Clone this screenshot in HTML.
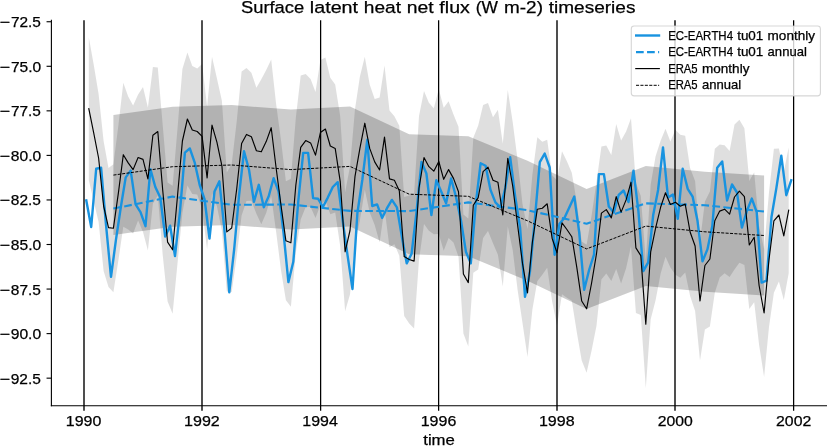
<!DOCTYPE html>
<html><head><meta charset="utf-8"><title>Surface latent heat net flux (W m-2) timeseries</title>
<style>
html,body{margin:0;padding:0;background:#fff;}
body{width:827px;height:446px;overflow:hidden;font-family:"Liberation Sans",sans-serif;}
svg{display:block;will-change:transform;}
text{font-family:"Liberation Sans",sans-serif;fill:#000;font-kerning:none;stroke:#000;stroke-width:0.25px;}
</style></head><body>
<svg width="827" height="446" viewBox="0 0 827 446">
<rect width="827" height="446" fill="#fff"/>
<g stroke="#000" stroke-width="1.39" fill="none">
<line x1="84.00" y1="20.3" x2="84.00" y2="410.7" stroke-width="1.39"/>
<line x1="202.00" y1="20.3" x2="202.00" y2="410.7" stroke-width="1.39"/>
<line x1="320.62" y1="20.3" x2="320.62" y2="410.7" stroke-width="1.25"/>
<line x1="438.62" y1="20.3" x2="438.62" y2="410.7" stroke-width="1.25"/>
<line x1="557.00" y1="20.3" x2="557.00" y2="410.7" stroke-width="1.39"/>
<line x1="675.00" y1="20.3" x2="675.00" y2="410.7" stroke-width="1.39"/>
<line x1="793.62" y1="20.3" x2="793.62" y2="410.7" stroke-width="1.25"/>
</g>
<polygon fill="#000" fill-opacity="0.125" points="88.8,37.2 93.7,64.6 98.6,94.0 103.6,141.0 108.5,168.1 113.4,164.2 118.4,125.3 123.3,82.7 128.2,96.4 133.1,105.6 138.1,94.5 143.0,86.9 147.9,107.4 152.9,66.9 157.8,67.5 162.7,125.0 167.6,182.6 172.6,185.8 177.5,128.5 182.4,69.0 187.4,52.5 192.3,66.0 197.2,68.5 202.1,63.9 207.1,106.5 212.0,56.8 216.9,78.2 221.9,100.8 226.8,172.4 231.7,164.0 236.7,121.5 241.6,71.5 246.5,67.9 251.4,72.8 256.4,87.7 261.3,79.3 266.2,70.1 271.2,59.4 276.1,103.7 281.0,140.3 285.9,181.3 290.9,178.8 295.8,118.0 300.7,75.4 305.7,74.1 310.6,78.9 315.5,92.1 320.4,60.0 325.4,57.5 330.3,77.7 335.2,84.4 340.2,116.3 345.1,192.3 350.0,166.5 355.0,108.9 359.9,76.4 364.8,56.7 369.7,84.4 374.7,98.9 379.6,97.5 384.5,65.6 389.5,110.6 394.4,116.3 399.3,125.8 404.2,197.1 409.2,195.5 414.1,193.6 419.0,116.0 424.0,91.0 428.9,102.7 433.8,108.2 438.8,89.0 443.7,107.8 448.6,101.3 453.5,114.4 458.5,126.8 463.4,214.5 468.3,218.6 473.3,137.8 478.2,125.6 483.1,105.1 488.0,103.1 493.0,117.2 497.9,109.7 502.8,143.5 507.8,90.0 512.7,122.0 517.6,160.0 522.5,203.9 527.5,228.9 532.4,174.5 537.3,137.2 542.3,141.7 547.2,139.8 552.1,175.2 557.0,180.2 562.0,151.3 566.9,161.2 571.8,172.7 576.8,202.3 581.7,241.5 586.6,244.8 591.6,215.5 596.5,181.7 601.4,146.6 606.3,145.6 611.3,154.9 616.2,124.1 621.1,140.6 626.1,131.6 631.0,118.2 635.9,182.9 640.8,196.1 645.8,260.2 650.7,184.3 655.6,156.2 660.6,140.8 665.5,128.8 670.4,141.5 675.4,129.7 680.3,134.7 685.2,135.8 690.1,168.0 695.1,181.0 700.0,241.5 704.9,201.5 709.9,191.5 714.8,148.8 719.7,144.6 724.6,145.2 729.6,151.1 734.5,124.5 739.4,119.7 744.4,128.3 749.3,181.0 754.2,172.3 759.1,226.0 764.1,249.0 769.0,192.0 773.9,148.8 778.9,148.5 783.8,171.9 788.7,147.2 788.7,273.2 783.8,299.9 778.9,281.5 773.9,292.8 769.0,327.0 764.1,377.0 759.1,345.0 754.2,302.3 749.3,309.0 744.4,264.9 739.4,262.7 734.5,269.5 729.6,277.1 724.6,273.2 719.7,277.6 714.8,292.8 709.9,326.5 704.9,329.5 700.0,360.5 695.1,311.0 690.1,296.0 685.2,272.4 680.3,277.7 675.4,274.7 670.4,267.5 665.5,256.8 660.6,273.8 655.6,300.2 650.7,319.3 645.8,388.2 640.8,315.1 635.9,312.9 631.0,246.2 626.1,268.2 621.1,283.6 616.2,269.1 611.3,280.9 606.3,273.6 601.4,279.6 596.5,325.7 591.6,350.5 586.6,372.8 581.7,360.5 576.8,332.3 571.8,300.7 566.9,297.8 562.0,294.3 557.0,325.2 552.1,301.2 547.2,267.8 542.3,274.7 537.3,281.2 532.4,309.5 527.5,356.9 522.5,322.9 517.6,290.0 512.7,250.0 507.8,226.6 502.8,286.5 497.9,254.7 493.0,243.2 488.0,231.1 483.1,238.1 478.2,269.6 473.3,272.8 468.3,346.6 463.4,333.5 458.5,256.8 453.5,242.4 448.6,237.9 443.7,250.8 438.8,234.0 433.8,234.2 428.9,230.7 424.0,224.0 419.0,260.0 414.1,328.6 409.2,323.5 404.2,316.1 399.3,255.8 394.4,244.3 389.5,247.2 384.5,208.6 379.6,242.5 374.7,224.9 369.7,212.4 364.8,189.7 359.9,220.4 355.0,243.9 350.0,294.5 345.1,311.3 340.2,246.3 335.2,212.4 330.3,214.3 325.4,200.5 320.4,205.0 315.5,218.1 310.6,206.9 305.7,207.1 300.7,219.4 295.8,253.0 290.9,306.8 285.9,300.3 281.0,270.3 276.1,231.7 271.2,196.0 266.2,213.1 261.3,224.3 256.4,213.7 251.4,200.8 246.5,200.9 241.6,215.5 236.7,256.5 231.7,292.0 226.8,291.4 221.9,230.8 216.9,206.2 212.0,193.4 207.1,249.5 202.1,208.9 197.2,194.5 192.3,194.0 187.4,185.5 182.4,213.0 177.5,263.5 172.6,313.8 167.6,301.6 162.7,255.0 157.8,195.5 152.9,203.5 147.9,250.4 143.0,231.9 138.1,220.5 133.1,233.6 128.2,229.4 123.3,226.7 118.4,260.3 113.4,292.2 108.5,287.1 103.6,271.0 98.6,222.0 93.7,201.2 88.8,180.2"/>
<polygon fill="#000" fill-opacity="0.2" points="113.4,115.1 172.6,106.7 231.7,105.0 290.9,109.6 350.0,106.4 409.2,134.2 468.3,136.3 527.5,160.8 586.6,188.9 645.8,166.1 704.9,171.8 764.1,175.5 764.1,295.5 704.9,291.8 645.8,286.1 586.6,308.9 527.5,280.8 468.3,256.3 409.2,254.2 350.0,226.4 290.9,229.6 231.7,225.0 172.6,226.7 113.4,235.1"/>
<polyline fill="none" stroke="#1893e0" stroke-width="2.4" stroke-linejoin="round" stroke-linecap="square" points="86.3,200.5 91.2,227.0 96.2,168.7 101.1,167.7 106.0,224.7 111.0,276.8 115.9,240.2 120.8,207.3 125.7,177.4 130.7,170.6 135.6,204.4 140.5,212.1 145.5,226.2 150.4,169.1 155.3,187.0 160.3,197.6 165.2,236.5 170.1,225.7 175.0,256.0 180.0,211.1 184.9,152.6 189.8,148.4 194.8,162.9 199.7,185.0 204.6,199.5 209.5,238.6 214.5,191.5 219.4,181.3 224.3,228.3 229.3,292.3 234.2,249.0 239.1,195.0 244.0,151.3 249.0,169.7 253.9,201.8 258.8,184.8 263.8,207.2 268.7,196.3 273.6,178.2 278.6,191.5 283.5,232.5 288.4,282.1 293.3,261.8 298.3,201.0 303.2,152.9 308.1,152.9 313.1,198.1 318.0,198.7 322.9,207.0 327.8,197.6 332.8,187.0 337.7,182.2 342.6,219.9 347.6,255.6 352.5,289.0 357.4,213.0 362.3,180.0 367.3,139.7 372.2,206.0 377.1,204.4 382.1,217.9 387.0,208.2 391.9,199.9 396.9,207.3 401.8,236.3 406.7,263.4 411.6,253.7 416.6,211.1 421.5,161.9 426.4,173.5 431.4,215.0 436.3,180.3 441.2,191.5 446.1,203.3 451.1,178.5 456.0,197.0 460.9,219.9 465.9,251.8 470.8,263.4 475.7,204.4 480.6,163.3 485.6,165.8 490.5,189.9 495.4,202.4 500.4,207.3 505.3,188.0 510.2,157.3 515.2,196.6 520.1,227.6 525.0,296.8 529.9,272.0 534.9,218.9 539.8,162.1 544.7,153.6 549.7,167.5 554.6,254.7 559.5,223.7 564.4,217.9 569.4,207.3 574.3,196.6 579.2,232.4 584.2,289.8 589.1,270.0 594.0,254.7 598.9,174.1 603.9,174.1 608.8,206.5 613.7,212.6 618.7,195.0 623.6,190.5 628.5,202.1 633.5,170.6 638.4,211.1 643.3,271.1 648.2,262.4 653.2,215.0 658.1,189.9 663.0,147.4 668.0,197.5 672.9,194.6 677.8,218.7 682.7,168.7 687.7,188.9 692.6,196.6 697.5,220.8 702.5,261.4 707.4,249.4 712.3,226.0 717.2,167.7 722.2,161.5 727.1,200.5 732.0,184.5 737.0,192.5 741.9,227.6 746.8,211.1 751.8,198.6 756.7,212.1 761.6,282.6 766.5,280.7 771.5,217.0 776.4,187.9 781.3,155.7 786.3,195.2 791.2,180.3"/>
<polyline fill="none" stroke="#1893e0" stroke-width="2.08" stroke-linejoin="round" stroke-dasharray="7.71 3.33" points="113.4,208.6 172.6,196.6 231.7,204.8 290.9,204.5 350.0,210.9 409.2,211.1 468.3,202.4 527.5,210.2 586.6,223.7 645.8,203.4 704.9,205.2 764.1,211.5"/>
<polyline fill="none" stroke="#000" stroke-width="1.15" stroke-linejoin="round" stroke-linecap="square" points="88.8,108.7 93.7,132.9 98.6,158.0 103.6,206.0 108.5,227.6 113.4,228.2 118.4,192.8 123.3,154.7 128.2,162.9 133.1,169.6 138.1,157.5 143.0,159.4 147.9,178.9 152.9,135.2 157.8,131.5 162.7,190.0 167.6,242.1 172.6,249.8 177.5,196.0 182.4,141.0 187.4,119.0 192.3,130.0 197.2,131.5 202.1,136.4 207.1,178.0 212.0,125.1 216.9,142.2 221.9,165.8 226.8,231.9 231.7,228.0 236.7,189.0 241.6,143.5 246.5,134.4 251.4,136.8 256.4,150.7 261.3,151.8 266.2,141.6 271.2,127.7 276.1,167.7 281.0,205.3 285.9,240.8 290.9,242.8 295.8,185.5 300.7,147.4 305.7,140.6 310.6,142.9 315.5,155.1 320.4,132.5 325.4,129.0 330.3,146.0 335.2,148.4 340.2,181.3 345.1,251.8 350.0,230.5 355.0,176.4 359.9,148.4 364.8,123.2 369.7,148.4 374.7,161.9 379.6,170.0 384.5,137.1 389.5,178.9 394.4,180.3 399.3,190.8 404.2,256.6 409.2,259.5 414.1,261.1 419.0,188.0 424.0,157.5 428.9,166.7 433.8,171.2 438.8,161.5 443.7,179.3 448.6,169.6 453.5,178.4 458.5,191.8 463.4,274.0 468.3,282.6 473.3,205.3 478.2,197.6 483.1,171.6 488.0,167.1 493.0,180.2 497.9,182.2 502.8,215.0 507.8,158.3 512.7,186.0 517.6,225.0 522.5,263.4 527.5,292.9 532.4,242.0 537.3,209.2 542.3,208.2 547.2,203.8 552.1,238.2 557.0,252.7 562.0,222.8 566.9,229.5 571.8,236.7 576.8,267.3 581.7,301.0 586.6,308.8 591.6,283.0 596.5,253.7 601.4,213.1 606.3,209.6 611.3,217.9 616.2,196.6 621.1,212.1 626.1,199.9 631.0,182.2 635.9,247.9 640.8,255.6 645.8,324.2 650.7,251.8 655.6,228.2 660.6,207.3 665.5,192.8 670.4,204.5 675.4,202.2 680.3,206.2 685.2,204.1 690.1,232.0 695.1,246.0 700.0,301.0 704.9,265.5 709.9,259.0 714.8,220.8 719.7,211.1 724.6,209.2 729.6,214.1 734.5,197.0 739.4,191.2 744.4,196.6 749.3,245.0 754.2,237.3 759.1,285.5 764.1,313.0 769.0,259.5 773.9,220.8 778.9,215.0 783.8,235.9 788.7,210.2"/>
<polyline fill="none" stroke="#000" stroke-width="1.0" stroke-linejoin="round" stroke-dasharray="3.08 1.33" points="113.4,175.1 172.6,166.7 231.7,165.0 290.9,169.6 350.0,166.4 409.2,194.2 468.3,196.3 527.5,220.8 586.6,248.9 645.8,226.1 704.9,231.8 764.1,235.5"/>
<g stroke="#000" stroke-width="1.11" fill="none" stroke-linecap="square">
<line x1="51.4" y1="20.3" x2="51.4" y2="405.8"/>
<line x1="51.4" y1="405.8" x2="827" y2="405.8"/>
<line x1="46.55" y1="21.74" x2="51.4" y2="21.74" stroke-linecap="butt"/>
<line x1="46.55" y1="66.29" x2="51.4" y2="66.29" stroke-linecap="butt"/>
<line x1="46.55" y1="110.84" x2="51.4" y2="110.84" stroke-linecap="butt"/>
<line x1="46.55" y1="155.40" x2="51.4" y2="155.40" stroke-linecap="butt"/>
<line x1="46.55" y1="199.95" x2="51.4" y2="199.95" stroke-linecap="butt"/>
<line x1="46.55" y1="244.50" x2="51.4" y2="244.50" stroke-linecap="butt"/>
<line x1="46.55" y1="289.06" x2="51.4" y2="289.06" stroke-linecap="butt"/>
<line x1="46.55" y1="333.61" x2="51.4" y2="333.61" stroke-linecap="butt"/>
<line x1="46.55" y1="378.16" x2="51.4" y2="378.16" stroke-linecap="butt"/>
</g>
<text y="26.95" font-size="14.50"><tspan x="-0.46" textLength="10.46" lengthAdjust="spacingAndGlyphs">−</tspan><tspan x="10.93" textLength="29.98" lengthAdjust="spacingAndGlyphs">72.5</tspan></text>
<text y="71.95" font-size="14.50"><tspan x="-0.46" textLength="10.46" lengthAdjust="spacingAndGlyphs">−</tspan><tspan x="10.92" textLength="30.24" lengthAdjust="spacingAndGlyphs">75.0</tspan></text>
<text y="115.95" font-size="14.50"><tspan x="-0.46" textLength="10.46" lengthAdjust="spacingAndGlyphs">−</tspan><tspan x="10.93" textLength="29.98" lengthAdjust="spacingAndGlyphs">77.5</tspan></text>
<text y="160.95" font-size="14.50"><tspan x="-0.46" textLength="10.46" lengthAdjust="spacingAndGlyphs">−</tspan><tspan x="10.84" textLength="30.33" lengthAdjust="spacingAndGlyphs">80.0</tspan></text>
<text y="204.95" font-size="14.50"><tspan x="-0.46" textLength="10.46" lengthAdjust="spacingAndGlyphs">−</tspan><tspan x="10.85" textLength="30.06" lengthAdjust="spacingAndGlyphs">82.5</tspan></text>
<text y="249.95" font-size="14.50"><tspan x="-0.46" textLength="10.46" lengthAdjust="spacingAndGlyphs">−</tspan><tspan x="10.84" textLength="30.33" lengthAdjust="spacingAndGlyphs">85.0</tspan></text>
<text y="294.95" font-size="14.50"><tspan x="-0.46" textLength="10.46" lengthAdjust="spacingAndGlyphs">−</tspan><tspan x="10.85" textLength="30.06" lengthAdjust="spacingAndGlyphs">87.5</tspan></text>
<text y="338.95" font-size="14.50"><tspan x="-0.46" textLength="10.46" lengthAdjust="spacingAndGlyphs">−</tspan><tspan x="10.72" textLength="30.45" lengthAdjust="spacingAndGlyphs">90.0</tspan></text>
<text y="383.95" font-size="14.50"><tspan x="-0.46" textLength="10.46" lengthAdjust="spacingAndGlyphs">−</tspan><tspan x="10.72" textLength="30.19" lengthAdjust="spacingAndGlyphs">92.5</tspan></text>
<text y="426.00" font-size="14.50"><tspan x="65.78" textLength="35.54" lengthAdjust="spacingAndGlyphs">1990</tspan></text>
<text y="426.00" font-size="14.50"><tspan x="184.08" textLength="35.73" lengthAdjust="spacingAndGlyphs">1992</tspan></text>
<text y="426.00" font-size="14.50"><tspan x="302.39" textLength="35.38" lengthAdjust="spacingAndGlyphs">1994</tspan></text>
<text y="426.00" font-size="14.50"><tspan x="420.68" textLength="35.62" lengthAdjust="spacingAndGlyphs">1996</tspan></text>
<text y="426.00" font-size="14.50"><tspan x="538.98" textLength="35.62" lengthAdjust="spacingAndGlyphs">1998</tspan></text>
<text y="426.00" font-size="14.50"><tspan x="657.71" textLength="35.11" lengthAdjust="spacingAndGlyphs">2000</tspan></text>
<text y="426.00" font-size="14.50"><tspan x="776.00" textLength="35.30" lengthAdjust="spacingAndGlyphs">2002</tspan></text>
<text y="444.70" font-size="14.50"><tspan x="423.25" textLength="31.60" lengthAdjust="spacingAndGlyphs">time</tspan></text>
<text y="13.20" font-size="17.40"><tspan x="240.97" textLength="63.23" lengthAdjust="spacingAndGlyphs">Surface</tspan> <tspan x="309.80" textLength="48.29" lengthAdjust="spacingAndGlyphs">latent</tspan> <tspan x="363.84" textLength="37.16" lengthAdjust="spacingAndGlyphs">heat</tspan> <tspan x="406.77" textLength="26.91" lengthAdjust="spacingAndGlyphs">net</tspan> <tspan x="439.33" textLength="30.53" lengthAdjust="spacingAndGlyphs">flux</tspan> <tspan x="475.84" textLength="22.20" lengthAdjust="spacingAndGlyphs">(W</tspan> <tspan x="504.05" textLength="38.89" lengthAdjust="spacingAndGlyphs">m-2)</tspan> <tspan x="548.65" textLength="86.83" lengthAdjust="spacingAndGlyphs">timeseries</tspan></text>
<rect x="631.3" y="26.0" width="189.1" height="69.9" rx="2.8" ry="2.8" fill="#fff" fill-opacity="0.8" stroke="#ccc" stroke-opacity="0.8" stroke-width="1.11"/>
<line x1="635.0" y1="35.5" x2="660.2" y2="35.5" stroke="#1893e0" stroke-width="2.4"/>
<line x1="636" y1="52.1" x2="659.15" y2="52.1" stroke="#1893e0" stroke-width="2.08" stroke-dasharray="7.71 3.33"/>
<line x1="635.2" y1="68.6" x2="659.9" y2="68.6" stroke="#000" stroke-width="1.15"/>
<line x1="636" y1="85.3" x2="659.15" y2="85.3" stroke="#000" stroke-width="1.0" stroke-dasharray="3.08 1.33"/>
<g>
<text y="40.00" font-size="12.15"><tspan x="668.16" textLength="64.84" lengthAdjust="spacingAndGlyphs">EC-EARTH4</tspan> <tspan x="737.16" textLength="26.17" lengthAdjust="spacingAndGlyphs">tu01</tspan> <tspan x="767.61" textLength="47.34" lengthAdjust="spacingAndGlyphs">monthly</tspan></text>
<text y="56.00" font-size="12.15"><tspan x="668.16" textLength="64.84" lengthAdjust="spacingAndGlyphs">EC-EARTH4</tspan> <tspan x="737.16" textLength="26.17" lengthAdjust="spacingAndGlyphs">tu01</tspan> <tspan x="767.61" textLength="39.21" lengthAdjust="spacingAndGlyphs">annual</tspan></text>
<text y="73.00" font-size="12.15"><tspan x="668.17" textLength="29.48" lengthAdjust="spacingAndGlyphs">ERA5</tspan> <tspan x="702.08" textLength="47.33" lengthAdjust="spacingAndGlyphs">monthly</tspan></text>
<text y="89.00" font-size="12.15"><tspan x="668.17" textLength="29.48" lengthAdjust="spacingAndGlyphs">ERA5</tspan> <tspan x="702.07" textLength="39.22" lengthAdjust="spacingAndGlyphs">annual</tspan></text>
</g>
</svg>
</body></html>
